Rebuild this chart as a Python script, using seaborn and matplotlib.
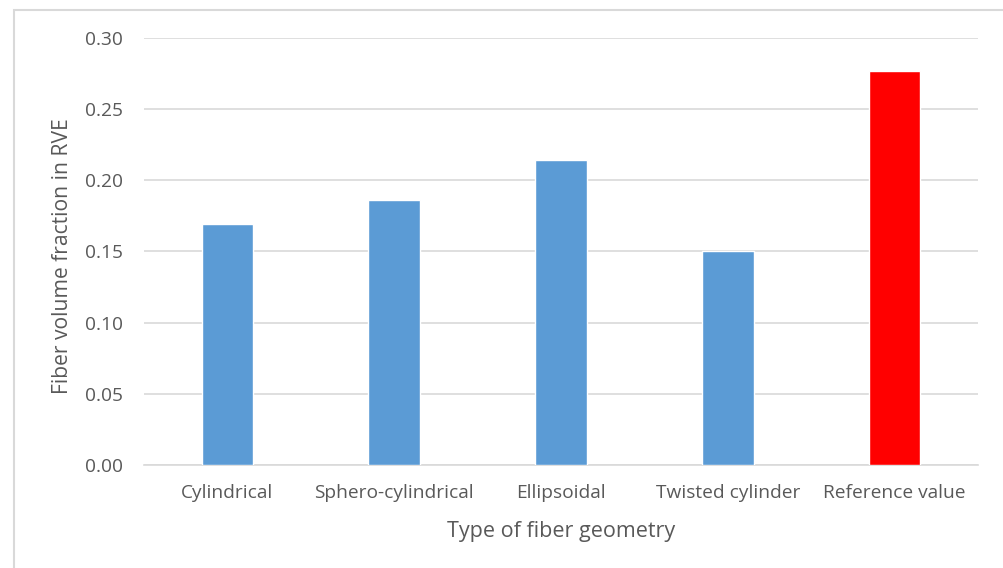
import matplotlib
matplotlib.use("Agg")
import matplotlib.pyplot as plt
import seaborn as sns
import pandas as pd
from matplotlib.patches import Rectangle

categories = ["Cylindrical", "Sphero-cylindrical", "Ellipsoidal", "Twisted cylinder", "Reference value"]
values = [0.169, 0.186, 0.214, 0.150, 0.277]
bar_colors = ["#5B9BD5", "#5B9BD5", "#5B9BD5", "#5B9BD5", "#FF0000"]
yticks = [0.00, 0.05, 0.10, 0.15, 0.20, 0.25, 0.30]

sns.set_theme(style="white")
plt.rcParams['font.family'] = ['Open Sans', 'DejaVu Sans']

df = pd.DataFrame({"cat": categories, "val": values})

fig = plt.figure(figsize=(10.04, 5.68), dpi=100)
fig.patch.set_facecolor("white")
ax = fig.add_axes([144/1004, 1-465/568, (978-144)/1004, (465-38)/568])

sns.barplot(data=df, x="cat", y="val", hue="cat", palette=bar_colors, legend=False,
            width=0.31, saturation=1, ax=ax, zorder=3)

ax.set_ylim(0, 0.30)
ax.set_yticks(yticks)
ax.set_yticklabels([f"{t:.2f}" for t in yticks])
ax.yaxis.grid(True, color="#D9D9D9", linewidth=1.2, zorder=0)
ax.set_axisbelow(True)
for s in ["top", "right", "left"]:
    ax.spines[s].set_visible(False)
ax.spines["bottom"].set_color("#D9D9D9")
ax.spines["bottom"].set_linewidth(1.2)
ax.tick_params(axis="both", length=0, labelsize=13.8, colors="#595959")
ax.tick_params(axis="y", pad=15)
ax.tick_params(axis="x", pad=14)
ax.set_xlabel("Type of fiber geometry", fontsize=15.5, color="#595959")
ax.set_ylabel("Fiber volume fraction in RVE", fontsize=15.2, color="#595959")
ax.xaxis.label.set_verticalalignment("center")
ax.xaxis.set_label_coords(0.5, -(531-465)/427)
ax.yaxis.label.set_verticalalignment("center")
ax.yaxis.set_label_coords((63-144)/834, 0.49)

fig.patches.append(Rectangle((14/1004, -0.05), 1.1, 1.05 - 10/568, transform=fig.transFigure,
                             fill=False, edgecolor="#D9D9D9", linewidth=1.5, zorder=0))

fig.savefig("out.png", dpi=100)
